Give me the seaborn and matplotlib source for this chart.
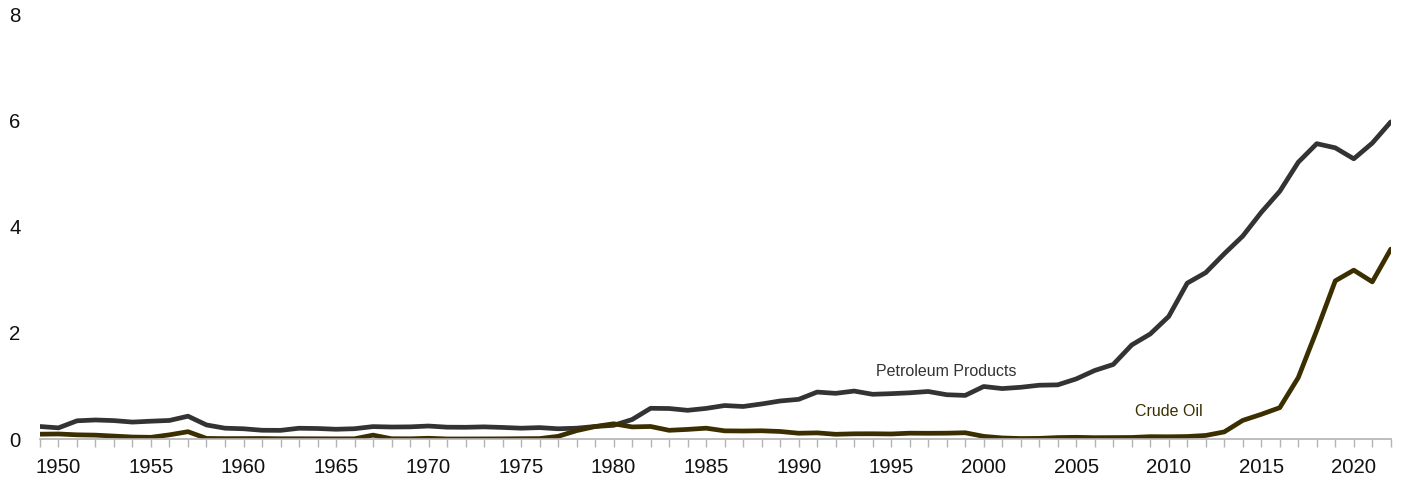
import pandas as pd
import matplotlib
matplotlib.use("Agg")
import matplotlib.pyplot as plt
from matplotlib.ticker import MultipleLocator
import seaborn as sns

# Años y exportaciones de EE.UU. (millones de barriles por día)
years = list(range(1949, 2023))

crude_oil = [
    0.091, 0.095, 0.079, 0.073, 0.055, 0.037, 0.032, 0.079, 0.138, 0.011,
    0.007, 0.008, 0.009, 0.005, 0.005, 0.004, 0.003, 0.004, 0.073, 0.005,
    0.004, 0.014, 0.001, 0.001, 0.002, 0.003, 0.006, 0.008, 0.050, 0.158,
    0.235, 0.287, 0.228, 0.236, 0.164, 0.181, 0.204, 0.154, 0.151, 0.155,
    0.142, 0.109, 0.116, 0.089, 0.098, 0.099, 0.095, 0.110, 0.108, 0.110,
    0.118, 0.050, 0.020, 0.009, 0.012, 0.027, 0.032, 0.025, 0.027, 0.029,
    0.044, 0.042, 0.047, 0.067, 0.134, 0.351, 0.465, 0.591, 1.158, 2.048,
    2.982, 3.183, 2.963, 3.580,
]

petroleum_products = [
    0.236, 0.210, 0.343, 0.359, 0.347, 0.319, 0.336, 0.350, 0.430, 0.265,
    0.204, 0.193, 0.165, 0.163, 0.203, 0.198, 0.184, 0.194, 0.234, 0.226,
    0.229, 0.245, 0.223, 0.221, 0.229, 0.218, 0.204, 0.215, 0.193, 0.204,
    0.236, 0.258, 0.367, 0.579, 0.575, 0.541, 0.577, 0.631, 0.613, 0.661,
    0.717, 0.748, 0.885, 0.861, 0.904, 0.843, 0.855, 0.871, 0.896, 0.835,
    0.822, 0.990, 0.951, 0.975, 1.014, 1.021, 1.133, 1.292, 1.405, 1.773,
    1.980, 2.311, 2.939, 3.137, 3.492, 3.826, 4.273, 4.670, 5.218, 5.568,
    5.490, 5.283, 5.579, 5.979,
]

series_names = ["Petroleum Products", "Crude Oil"]
colors = {"Petroleum Products": "#333333", "Crude Oil": "#3b2e00"}


def main() -> None:
    sns.set_theme(style="white")
    plt.rcParams["font.family"] = ["Liberation Sans", "DejaVu Sans"]

    df = pd.DataFrame({
        "year": years * 2,
        "value": petroleum_products + crude_oil,
        "series": [series_names[0]] * len(years) + [series_names[1]] * len(years),
    })

    fig = plt.figure(figsize=(14.02, 4.8), dpi=100)
    ax = fig.add_axes([0.0285, 0.0854, 0.9635, 0.884])

    sns.lineplot(data=df, x="year", y="value", hue="series", palette=colors,
                 linewidth=3.4, ax=ax, legend=False)

    ax.set_xlim(1949, 2022)
    ax.set_ylim(0, 8)
    ax.set_xlabel("")
    ax.set_ylabel("")

    for side in ["left", "right", "top"]:
        ax.spines[side].set_visible(False)
    ax.spines["bottom"].set_color("#b3b3b3")
    ax.spines["bottom"].set_linewidth(1.2)

    ax.xaxis.set_major_locator(MultipleLocator(5))
    ax.xaxis.set_minor_locator(MultipleLocator(1))
    ax.tick_params(axis="x", which="both", direction="out", length=6, width=1,
                   color="#b3b3b3", labelsize=14.7, labelcolor="#111111", pad=8,
                   bottom=True)
    ax.set_yticks([0, 2, 4, 6, 8])
    ax.tick_params(axis="y", length=0, labelsize=14.7, labelcolor="#111111", pad=14)

    # Etiquetas de series
    ax.text(1998.0, 1.28, "Petroleum Products", ha="center", va="center",
            fontsize=11.5, color="#333333")
    ax.text(2010.0, 0.51, "Crude Oil", ha="center", va="center",
            fontsize=11.5, color="#3b2e00")

    fig.savefig("out.png", dpi=100)


if __name__ == "__main__":
    main()
